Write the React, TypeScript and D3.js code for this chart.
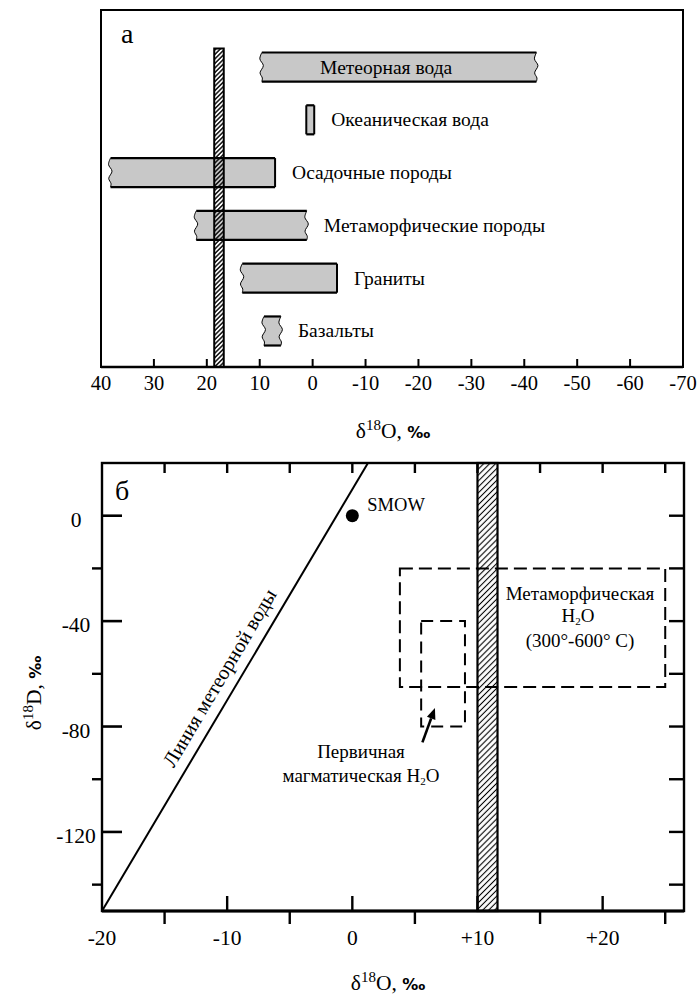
import React, { useEffect, useRef } from "react";
import * as d3 from "d3";

const W = 697;
const H = 998;
const FONT = "'Liberation Serif', 'Times New Roman', serif";

// ---- panel а: delta18O ranges of natural reservoirs ----
const sources = [
  "Метеорная вода",
  "Океаническая вода",
  "Осадочные породы",
  "Метаморфические породы",
  "Граниты",
  "Базальты",
];
const rangeHigh = [9.6, 1.2, 38.2, 22, 13.3, 9.2];
const rangeLow = [-42.3, -0.3, 7.1, 1.1, -4.6, 6];
const brokenLeft = [true, false, true, true, true, true];
const brokenRight = [true, false, false, true, false, true];
const mantleBandA = [18.6, 16.8];
const topTicks = [40, 30, 20, 10, 0, -10, -20, -30, -40, -50, -60, -70];

// ---- panel б: delta D vs delta 18O ----
const oMajorTicks = [-20, -10, 0, 10, 20];
const oMajorLabels = ["-20", "-10", "0", "+10", "+20"];
const oMinorTicks = [-15, -5, 5, 15, 25];
const oTopTicks = [-15, -10, -5, 0, 5, 10, 15, 20, 25];
const dMajorTicks = [0, -40, -80, -120];
const dMinorTicks = [-20, -60, -100, -140];
const dRightTicks = [0, -20, -40, -60, -80, -100, -120, -140];
const meteoricO = [-20, 1.25];
const meteoricD = [-150, 20];
const smow = [0, 0];
const mantleBandB = [10, 11.6];
const metamorphicO = [3.8, 25];
const metamorphicD = [-65, -20];
const magmaticO = [5.5, 9];
const magmaticD = [-80, -40];
const arrowO = [5.6, 6.6];
const arrowD = [-86, -73];

const App = () => {
  const ref = useRef<SVGSVGElement>(null);

  useEffect(() => {
    const svg = d3.select(ref.current);
    svg.selectAll("*").remove();
    svg.attr("width", W).attr("height", H).style("font-family", FONT);

    svg.append("rect").attr("width", W).attr("height", H).attr("fill", "#fff");

    // hatch patterns
    const defs = svg.append("defs");
    const hatch = (id: string, size: number, sw: number) => {
      defs
        .append("pattern")
        .attr("id", id)
        .attr("patternUnits", "userSpaceOnUse")
        .attr("width", size)
        .attr("height", size)
        .attr("patternTransform", "rotate(45)")
        .append("line")
        .attr("x1", size / 2)
        .attr("x2", size / 2)
        .attr("y1", 0)
        .attr("y2", size)
        .attr("stroke", "#000")
        .attr("stroke-width", sw);
    };
    hatch("hatchA", 3.2, 1.4);
    hatch("hatchB", 4.2, 1.1);

    // ================= panel а =================
    const xA = d3.scaleLinear().domain([40, -70]).range([101, 683]);
    const yA = d3.scaleBand().domain(sources).range([52.5, 345.5]).paddingInner(0.45);
    const axisA = 367;
    const topA = 10;
    const gA = svg.append("g");

    const curve = d3.line().curve(d3.curveCatmullRom);
    const endPts = (x: number, ya: number, yb: number, wavy: boolean) => {
      const h = yb - ya;
      return wavy
        ? [
            [x, ya],
            [x - 2, ya + h * 0.22],
            [x + 1.5, ya + h * 0.45],
            [x - 1.8, ya + h * 0.7],
            [x + 0.5, ya + h * 0.88],
            [x, yb],
          ]
        : [
            [x, ya],
            [x, yb],
          ];
    };

    sources.forEach((s, i) => {
      const xl = xA(rangeHigh[i]);
      const xr = xA(rangeLow[i]);
      const ya = yA(s) as number;
      const yb = ya + yA.bandwidth();
      const right = endPts(xr, ya, yb, brokenRight[i]) as [number, number][];
      const left = endPts(xl, ya, yb, brokenLeft[i]).reverse() as [number, number][];
      const rightD = (curve(right) as string).replace(/^M/, "L");
      const leftD = (curve(left) as string).replace(/^M/, "L");
      gA.append("path")
        .attr("d", `M${xl},${ya}L${xr},${ya}${rightD}L${xl},${yb}${leftD}Z`)
        .attr("fill", "#c8c8c8")
        .attr("stroke", "none");
      gA.append("path")
        .attr("d", curve(right) as string)
        .attr("fill", "none")
        .attr("stroke", "#000")
        .attr("stroke-width", brokenRight[i] ? 1 : 2);
      gA.append("path")
        .attr("d", curve(left) as string)
        .attr("fill", "none")
        .attr("stroke", "#000")
        .attr("stroke-width", brokenLeft[i] ? 1 : 2);
      [ya, yb].forEach((yy) =>
        gA.append("line")
          .attr("x1", xl)
          .attr("x2", xr)
          .attr("y1", yy)
          .attr("y2", yy)
          .attr("stroke", "#000")
          .attr("stroke-width", 2.2)
      );
      // label: inside for meteoric water, else right of the bar
      const inside = i === 0;
      gA.append("text")
        .attr("x", inside ? (xl + xr) / 2 - 13 : xr + 17)
        .attr("y", (ya + yb) / 2 + 6.5)
        .attr("text-anchor", inside ? "middle" : "start")
        .attr("font-size", 19.5)
        .text(s);
    });

    // mantle band (hatched)
    gA.append("rect")
      .attr("x", xA(mantleBandA[0]))
      .attr("y", (yA(sources[0]) as number) - 4)
      .attr("width", xA(mantleBandA[1]) - xA(mantleBandA[0]))
      .attr("height", axisA - (yA(sources[0]) as number) + 4)
      .attr("fill", "url(#hatchA)")
      .attr("stroke", "#000")
      .attr("stroke-width", 2);

    // frame + axis
    gA.append("rect")
      .attr("x", xA(40))
      .attr("y", topA)
      .attr("width", xA(-70) - xA(40))
      .attr("height", axisA - topA)
      .attr("fill", "none")
      .attr("stroke", "#000")
      .attr("stroke-width", 2);
    gA.append("line")
      .attr("x1", xA(40))
      .attr("x2", xA(-70))
      .attr("y1", axisA)
      .attr("y2", axisA)
      .attr("stroke", "#000")
      .attr("stroke-width", 2.6);
    topTicks.forEach((t) => {
      gA.append("line")
        .attr("x1", xA(t))
        .attr("x2", xA(t))
        .attr("y1", axisA)
        .attr("y2", axisA - 8)
        .attr("stroke", "#000")
        .attr("stroke-width", 2);
      gA.append("text")
        .attr("x", xA(t))
        .attr("y", 390)
        .attr("text-anchor", "middle")
        .attr("font-size", 20.5)
        .text(String(t));
    });
    gA.append("text").attr("x", 121).attr("y", 43).attr("font-size", 28).text("а");

    const deltaTitle = (x: number, y: number, letter: string, rotate = false) => {
      const t = svg
        .append("text")
        .attr("text-anchor", "middle")
        .attr("font-size", 21.5)
        .attr("transform", rotate ? `translate(${x},${y}) rotate(-90)` : `translate(${x},${y})`);
      t.append("tspan").text("δ");
      t.append("tspan").attr("font-size", 15).attr("dy", -8).text("18");
      t.append("tspan").attr("dy", 8).text(`${letter}, `);
      t.append("tspan").attr("font-weight", "bold").attr("font-family", "'DejaVu Sans'").attr("font-size", 16).text("‰");
    };
    deltaTitle(393, 438, "O");

    // ================= panel б =================
    const xB = d3.scaleLinear().domain([-20, 26.5]).range([102, 684]);
    const yB = d3.scaleLinear().domain([-150, 20]).range([911, 463]);
    const gB = svg.append("g");

    // dashed fields
    const dashBox = (ox: number[], dy: number[], dash: string) =>
      gB.append("rect")
        .attr("x", xB(ox[0]))
        .attr("y", yB(dy[1]))
        .attr("width", xB(ox[1]) - xB(ox[0]))
        .attr("height", yB(dy[0]) - yB(dy[1]))
        .attr("fill", "none")
        .attr("stroke", "#000")
        .attr("stroke-width", 2)
        .attr("stroke-dasharray", dash);
    dashBox(metamorphicO, metamorphicD, "13 6");
    dashBox(magmaticO, magmaticD, "12 7");

    // mantle band
    gB.append("rect")
      .attr("x", xB(mantleBandB[0]))
      .attr("y", yB(20))
      .attr("width", xB(mantleBandB[1]) - xB(mantleBandB[0]))
      .attr("height", yB(-150) - yB(20))
      .attr("fill", "url(#hatchB)")
      .attr("stroke", "#000")
      .attr("stroke-width", 2.2);

    // meteoric water line
    const p0: [number, number] = [xB(meteoricO[0]), yB(meteoricD[0])];
    const p1: [number, number] = [xB(meteoricO[1]), yB(meteoricD[1])];
    gB.append("line")
      .attr("x1", p0[0])
      .attr("y1", p0[1])
      .attr("x2", p1[0])
      .attr("y2", p1[1])
      .attr("stroke", "#000")
      .attr("stroke-width", 2);
    const ang = (Math.atan2(p1[1] - p0[1], p1[0] - p0[0]) * 180) / Math.PI;
    const len = Math.hypot(p1[0] - p0[0], p1[1] - p0[1]);
    const dir = [(p1[0] - p0[0]) / len, (p1[1] - p0[1]) / len];
    const nrm = [dir[1], -dir[0]];
    const mid = d3.interpolate(p0, p1)(0.5);
    gB.append("text")
      .attr(
        "transform",
        `translate(${mid[0] + nrm[0] * 11},${mid[1] + nrm[1] * 11}) rotate(${ang})`
      )
      .attr("text-anchor", "middle")
      .attr("font-size", 20.5)
      .text("Линия метеорной воды");

    // SMOW
    gB.append("circle").attr("cx", xB(smow[0])).attr("cy", yB(smow[1])).attr("r", 6.5).attr("fill", "#000");
    gB.append("text").attr("x", xB(smow[0]) + 15).attr("y", yB(smow[1]) - 5).attr("font-size", 18.5).text("SMOW");

    // arrow
    const a0: [number, number] = [xB(arrowO[0]), yB(arrowD[0])];
    const a1: [number, number] = [xB(arrowO[1]), yB(arrowD[1])];
    const al = Math.hypot(a1[0] - a0[0], a1[1] - a0[1]);
    const ad = [(a1[0] - a0[0]) / al, (a1[1] - a0[1]) / al];
    const headLen = 11;
    const base = [a1[0] - ad[0] * headLen, a1[1] - ad[1] * headLen];
    gB.append("line")
      .attr("x1", a0[0])
      .attr("y1", a0[1])
      .attr("x2", base[0])
      .attr("y2", base[1])
      .attr("stroke", "#000")
      .attr("stroke-width", 2.6);
    gB.append("path")
      .attr(
        "d",
        `M${a1[0]},${a1[1]}L${base[0] - ad[1] * 4.5},${base[1] + ad[0] * 4.5}L${base[0] + ad[1] * 4.5},${base[1] - ad[0] * 4.5}Z`
      )
      .attr("fill", "#000");

    // text annotations
    const multi = (x: number, y: number, parts: [string, string?][]) => {
      const t = gB.append("text").attr("x", x).attr("y", y).attr("text-anchor", "middle").attr("font-size", 19);
      parts.forEach(([s, kind]) => {
        if (kind === "sub") {
          t.append("tspan").attr("font-size", 11).attr("dy", 3).text(s);
          return;
        }
        if (kind === "back") {
          t.append("tspan").attr("dy", -3).text(s);
          return;
        }
        t.append("tspan").text(s);
      });
    };
    multi(361, 758, [["Первичная"]]);
    multi(361, 782, [["магматическая H"], ["2", "sub"], ["O", "back"]]);
    multi(580, 600, [["Метаморфическая"]]);
    multi(578, 622, [["H"], ["2", "sub"], ["O", "back"]]);
    multi(580, 647, [["(300°-600° C)"]]);

    // frame
    gB.append("rect")
      .attr("x", xB(-20))
      .attr("y", yB(20))
      .attr("width", xB(26.5) - xB(-20))
      .attr("height", yB(-150) - yB(20))
      .attr("fill", "none")
      .attr("stroke", "#000")
      .attr("stroke-width", 2.4);
    gB.append("line")
      .attr("x1", xB(-20))
      .attr("x2", xB(26.5))
      .attr("y1", yB(-150))
      .attr("y2", yB(-150))
      .attr("stroke", "#000")
      .attr("stroke-width", 3);

    const tick = (x1: number, y1: number, x2: number, y2: number, sw = 2.4) =>
      gB.append("line").attr("x1", x1).attr("y1", y1).attr("x2", x2).attr("y2", y2).attr("stroke", "#000").attr("stroke-width", sw);

    const yBot = yB(-150);
    const yTop = yB(20);
    const xL = xB(-20);
    const xR = xB(26.5);
    oMajorTicks.forEach((t, i) => {
      if (t > -20) tick(xB(t), yBot, xB(t), yBot - 15);
      gB.append("text")
        .attr("x", xB(t))
        .attr("y", 945)
        .attr("text-anchor", "middle")
        .attr("font-size", 21.5)
        .text(oMajorLabels[i]);
    });
    oMinorTicks.forEach((t) => tick(xB(t), yBot, xB(t), yBot + 13));
    oTopTicks.forEach((t) => tick(xB(t), yTop, xB(t), yTop + 10));
    dMajorTicks.forEach((t) => {
      tick(xL, yB(t), xL + 20, yB(t), 2.6);
      gB.append("text")
        .attr("x", 76)
        .attr("y", yB(t) + 11)
        .attr("text-anchor", "middle")
        .attr("font-size", 21.5)
        .text(String(t));
    });
    dMinorTicks.forEach((t) => tick(xL, yB(t), xL - 10, yB(t)));
    dRightTicks.forEach((t) => tick(xR, yB(t), xR - 15, yB(t)));

    gB.append("text").attr("x", 115).attr("y", 500).attr("font-size", 28).text("б");

    deltaTitle(388, 990, "O");
    deltaTitle(41, 693, "D", true);
  }, []);

  return <svg ref={ref} style={{ position: "absolute", left: 0, top: 0 }} />;
};

export default App;
